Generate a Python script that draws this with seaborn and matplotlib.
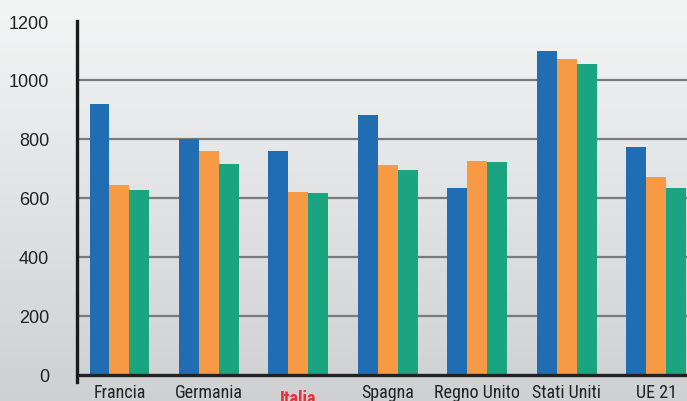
import numpy as np
import pandas as pd
import matplotlib
matplotlib.use("Agg")
import matplotlib.pyplot as plt
import matplotlib.transforms as mtransforms
from matplotlib import font_manager
from matplotlib.colors import LinearSegmentedColormap
import seaborn as sns

# --- Data ---
countries = ["Francia", "Germania", "Italia", "Spagna", "Regno Unito", "Stati Uniti", "UE 21"]
series_names = ["Serie 1", "Serie 2", "Serie 3"]
serie_1 = [920, 799, 758, 880, 633, 1097, 772]
serie_2 = [643, 758, 620, 711, 724, 1070, 670]
serie_3 = [626, 714, 616, 694, 721, 1053, 633]
y_ticks = [0, 200, 400, 600, 800, 1000, 1200]

colors = ["#216db3", "#f79a45", "#1aa580"]

df = pd.DataFrame({
    "Paese": countries * 3,
    "Valore": serie_1 + serie_2 + serie_3,
    "Serie": [s for s in series_names for _ in countries],
})

sns.set_style("white")
plt.rcParams["font.family"] = ["Liberation Sans", "DejaVu Sans"]

# pick a narrow font for the country names if one is installed
installed = {f.name for f in font_manager.fontManager.ttflist}
narrow = next((n for n in ["Liberation Sans Narrow", "Arial Narrow", "DejaVu Sans Condensed",
                           "Roboto Condensed", "Open Sans Condensed"] if n in installed), None)
x_stretch = "normal" if narrow else "condensed"
x_family = [narrow or "Liberation Sans", "DejaVu Sans"]
x_size = 13

fig = plt.figure(figsize=(6.87, 4.02), dpi=100)

# background gradient
bg = fig.add_axes([0, 0, 1, 1], zorder=-10)
cmap = LinearSegmentedColormap.from_list("bg", ["#f4f5f5", "#cfd0d2"])
bg.imshow(np.linspace(0, 1, 256).reshape(-1, 1), aspect="auto", cmap=cmap, extent=[0, 1, 0, 1])
bg.set_axis_off()

ax = fig.add_axes([77 / 687, 19 / 402, 1 - 77 / 687, (383 - 22) / 402])
ax.set_facecolor("none")

sns.barplot(data=df, x="Paese", y="Valore", hue="Serie", palette=colors,
            width=0.67, gap=0, saturation=1, legend=False, ax=ax, zorder=3,
            linewidth=0, edgecolor="none")

ax.set_xlim(-0.475, 6.346)
ax.set_ylim(-24, 1200)
ax.set_yticks(y_ticks)
ax.set_yticklabels([str(t) for t in y_ticks], fontsize=13, color="#222222")

# gridlines (not at 0 or 1200)
for t in y_ticks[1:-1]:
    ax.axhline(t, color="#7a7a7a", lw=1.6, zorder=1)
ax.axhline(0, color="#222222", lw=2.4, zorder=4, clip_on=False)

ax.tick_params(axis="y", length=7, width=1.6, color="#7a7a7a", pad=13, direction="out")
ax.tick_params(axis="x", length=0, pad=1)

for sp in ["top", "right", "bottom"]:
    ax.spines[sp].set_visible(False)
ax.spines["left"].set_color("#1a1a1a")
ax.spines["left"].set_linewidth(2.4)
ax.spines["left"].set_zorder(5)

ax.set_xlabel("")
ax.set_ylabel("")

for lbl in ax.get_xticklabels():
    lbl.set_family(x_family)
    lbl.set_stretch(x_stretch)
    lbl.set_fontsize(x_size)
    lbl.set_color("#222222")
    if lbl.get_text() == "Italia":
        lbl.set_color("#e8303a")
        lbl.set_fontweight("bold")
        lbl.set_transform(lbl.get_transform() +
                          mtransforms.ScaledTranslation(0, -4 / 72, fig.dpi_scale_trans))

# the tick at 0 drawn darker
ax.yaxis.get_major_ticks()[0].tick1line.set_color("#222222")
ax.yaxis.get_major_ticks()[0].tick1line.set_markeredgewidth(2.4)

fig.savefig("out.png", dpi=100)
